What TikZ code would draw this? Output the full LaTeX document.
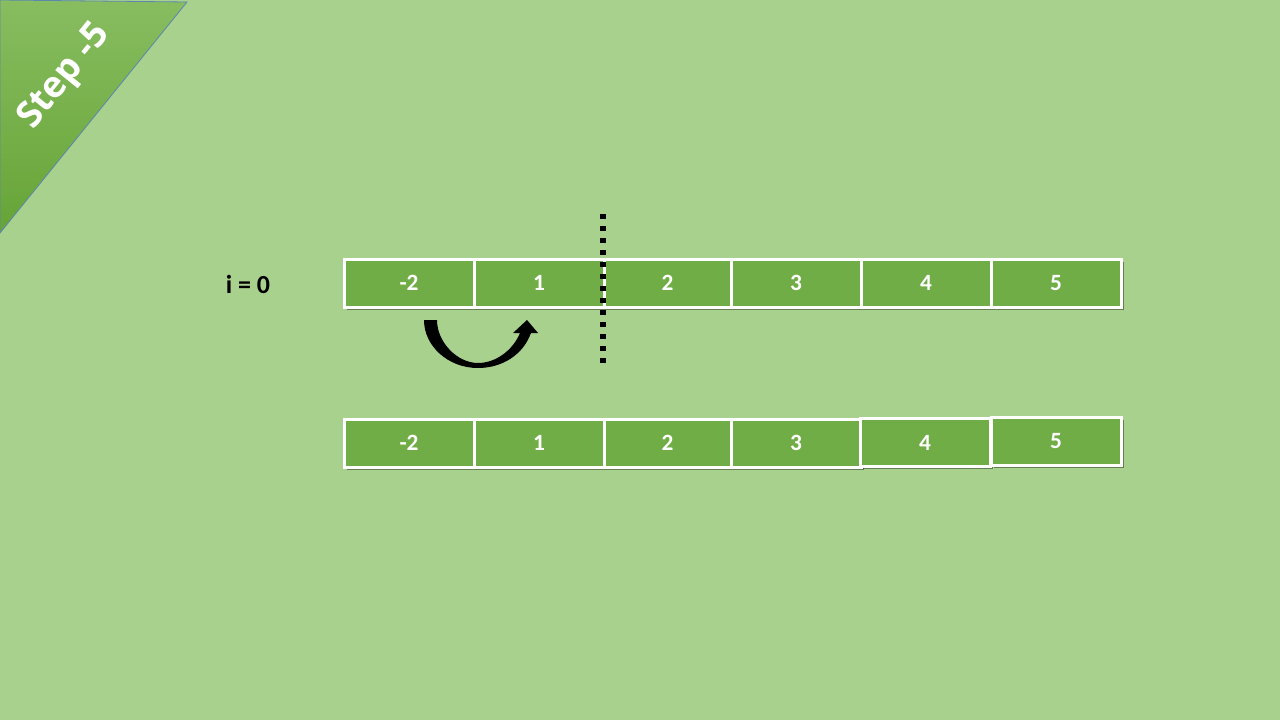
\documentclass[tikz,border=0pt]{standalone}
\usepackage{fontspec}
\setmainfont{Carlito}
\newfontfamily\osans{Open Sans}
\usetikzlibrary{shadows}
\definecolor{bg}{HTML}{A9D18E}
\definecolor{cellfill}{HTML}{70AD47}
\definecolor{tritop}{HTML}{88BD60}
\definecolor{tribot}{HTML}{66A436}
\definecolor{triedge}{HTML}{5B86B0}
\tikzset{
  cell/.style={draw=white, line width=2.25pt, fill=cellfill, minimum height=36pt,
    inner sep=0pt, text=white, font=\fontsize{17.5}{20}\selectfont\bfseries,
    drop shadow={shadow xshift=2pt, shadow yshift=-2pt, opacity=0.4, fill=black}},
  lbl/.style={font=\fontsize{19.5}{22}\selectfont\bfseries, text=black},
  steptext/.style={font=\osans\bfseries\fontsize{27.5}{30}\selectfont, text=white, rotate=51},
  dotline/.style={line width=4.5pt, dash pattern=on 3.75pt off 5.25pt, black}
}
\begin{document}
\begin{tikzpicture}[x=0.75pt,y=-0.75pt]
\useasboundingbox (0,0) rectangle (1280,720);
\fill[bg] (0,0) rectangle (1280,720);
% corner banner
\shade[top color=tritop, bottom color=tribot] (0,0) -- (187,2) -- (0,233) -- cycle;
\draw[triedge, line width=0.6pt] (0,0) -- (187,2) -- (0,233) -- cycle;
\node[steptext] (step) at (65,77) {Step -5};
% label
\node[lbl] (ilbl) at (248,284) {i = 0};
% top row
\node[cell, minimum width=97.5pt] (a1) at (409,283) {-2};
\node[cell, minimum width=97.5pt] (a2) at (539,283) {1};
\node[cell, minimum width=95.25pt] (a3) at (667.5,283) {2};
\node[cell, minimum width=97.5pt] (a4) at (796,283) {3};
\node[cell, minimum width=97.5pt] (a5) at (926,283) {4};
\node[cell, minimum width=97.5pt] (a6) at (1056,283) {5};
% bottom row
\node[cell, minimum width=97.5pt] (b1) at (409,443) {-2};
\node[cell, minimum width=97.5pt] (b2) at (539,443) {1};
\node[cell, minimum width=95.25pt] (b3) at (667.5,443) {2};
\node[cell, minimum width=97.5pt] (b4) at (796,443) {3};
\node[cell, minimum width=97.5pt] (b5) at (925,442.5) {4};
\node[cell, minimum width=97.5pt] (b6) at (1056,441.5) {5};
% dotted divider
\coordinate (d1) at (603,214);
\coordinate (d2) at (603,364);
\draw[dotline] (d1) -- (d2);
% curved arrow
\fill[black] (424,320) -- (437,320)
  .. controls (437,342) and (457,363) .. (478,363)
  .. controls (496,363) and (513,350) .. (520,333)
  -- (513,333) -- (527,320) -- (538,333) -- (531,333)
  .. controls (523,355) and (502,368) .. (478,368)
  .. controls (448,368) and (424,346) .. (424,320) -- cycle;
\end{tikzpicture}
\end{document}
